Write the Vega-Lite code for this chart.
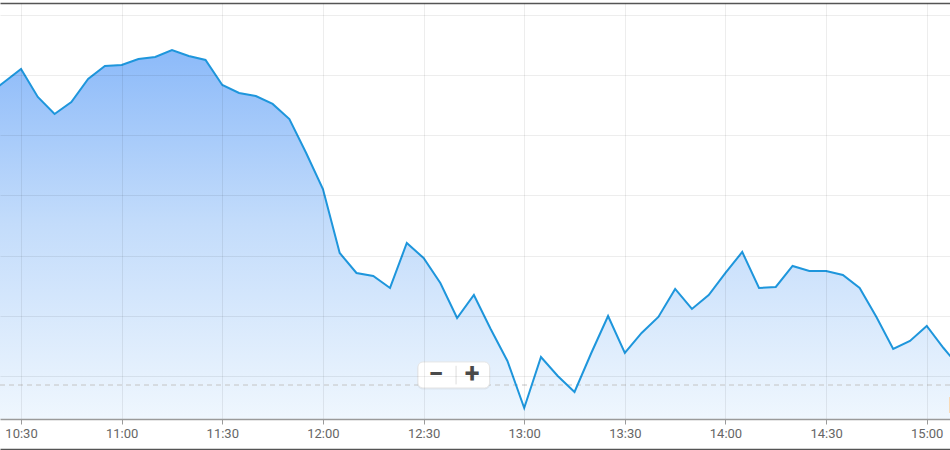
{
  "$schema": "https://vega.github.io/schema/vega-lite/v6.json",
  "width": 950,
  "height": 416,
  "autosize": {"type": "none"},
  "padding": {"left": 0, "top": 3, "right": 0, "bottom": 31},
  "background": "white",
  "config": {"view": {"stroke": null}, "font": "Roboto"},
  "datasets": {
    "main": [
      {"t": "2024-01-01T10:20:00", "v": 56.70},
      {"t": "2024-01-01T10:25:00", "v": 58.86},
      {"t": "2024-01-01T10:30:00", "v": 61.02},
      {"t": "2024-01-01T10:35:00", "v": 56.37},
      {"t": "2024-01-01T10:40:00", "v": 53.54},
      {"t": "2024-01-01T10:45:00", "v": 55.54},
      {"t": "2024-01-01T10:50:00", "v": 59.36},
      {"t": "2024-01-01T10:55:00", "v": 61.52},
      {"t": "2024-01-01T11:00:00", "v": 61.69},
      {"t": "2024-01-01T11:05:00", "v": 62.68},
      {"t": "2024-01-01T11:10:00", "v": 63.02},
      {"t": "2024-01-01T11:15:00", "v": 64.18},
      {"t": "2024-01-01T11:20:00", "v": 63.18},
      {"t": "2024-01-01T11:25:00", "v": 62.52},
      {"t": "2024-01-01T11:30:00", "v": 58.36},
      {"t": "2024-01-01T11:35:00", "v": 57.03},
      {"t": "2024-01-01T11:40:00", "v": 56.53},
      {"t": "2024-01-01T11:45:00", "v": 55.21},
      {"t": "2024-01-01T11:50:00", "v": 52.71},
      {"t": "2024-01-01T11:55:00", "v": 47.06},
      {"t": "2024-01-01T12:00:00", "v": 41.08},
      {"t": "2024-01-01T12:05:00", "v": 30.44},
      {"t": "2024-01-01T12:10:00", "v": 27.12},
      {"t": "2024-01-01T12:15:00", "v": 26.62},
      {"t": "2024-01-01T12:20:00", "v": 24.63},
      {"t": "2024-01-01T12:25:00", "v": 32.10},
      {"t": "2024-01-01T12:30:00", "v": 29.61},
      {"t": "2024-01-01T12:35:00", "v": 25.46},
      {"t": "2024-01-01T12:40:00", "v": 19.64},
      {"t": "2024-01-01T12:45:00", "v": 23.46},
      {"t": "2024-01-01T12:50:00", "v": 17.81},
      {"t": "2024-01-01T12:55:00", "v": 12.49},
      {"t": "2024-01-01T13:00:00", "v": 4.68},
      {"t": "2024-01-01T13:05:00", "v": 13.16},
      {"t": "2024-01-01T13:10:00", "v": 10.00},
      {"t": "2024-01-01T13:15:00", "v": 7.34},
      {"t": "2024-01-01T13:20:00", "v": 13.82},
      {"t": "2024-01-01T13:25:00", "v": 19.97},
      {"t": "2024-01-01T13:30:00", "v": 13.82},
      {"t": "2024-01-01T13:35:00", "v": 17.15},
      {"t": "2024-01-01T13:40:00", "v": 19.81},
      {"t": "2024-01-01T13:45:00", "v": 24.46},
      {"t": "2024-01-01T13:50:00", "v": 21.14},
      {"t": "2024-01-01T13:55:00", "v": 23.46},
      {"t": "2024-01-01T14:00:00", "v": 27.12},
      {"t": "2024-01-01T14:05:00", "v": 30.61},
      {"t": "2024-01-01T14:10:00", "v": 24.63},
      {"t": "2024-01-01T14:15:00", "v": 24.79},
      {"t": "2024-01-01T14:20:00", "v": 28.28},
      {"t": "2024-01-01T14:25:00", "v": 27.45},
      {"t": "2024-01-01T14:30:00", "v": 27.45},
      {"t": "2024-01-01T14:35:00", "v": 26.79},
      {"t": "2024-01-01T14:40:00", "v": 24.63},
      {"t": "2024-01-01T14:45:00", "v": 19.81},
      {"t": "2024-01-01T14:50:00", "v": 14.49},
      {"t": "2024-01-01T14:55:00", "v": 15.82},
      {"t": "2024-01-01T15:00:00", "v": 18.31},
      {"t": "2024-01-01T15:05:00", "v": 14.65},
      {"t": "2024-01-01T15:10:00", "v": 11.33}
    ],
    "ctl": [
      {"t1": "2024-01-01T12:28:20", "t2": "2024-01-01T12:49:40", "top": 12.33, "bottom": 8.01}
    ],
    "shadow": [
      {"t1": "2024-01-01T12:28:05", "t2": "2024-01-01T12:49:55", "top": 12.2, "bottom": 7.75}
    ],
    "glyphs": [
      {"t": "2024-01-01T12:33:43", "v": 10.2, "s": "−"},
      {"t": "2024-01-01T12:44:27", "v": 10.2, "s": "+"}
    ],
    "sep": [
      {"t": "2024-01-01T12:39:41", "top": 11.7, "bottom": 8.6}
    ],
    "tag": [
      {"t1": "2024-01-01T15:06:40", "t2": "2024-01-01T15:20:00", "top": 6.51, "bottom": 3.85}
    ],
    "ref": [
      {"v": 8.5}
    ]
  },
  "resolve": {"axis": {"x": "independent"}},
  "layer": [
    {
      "data": {"name": "main"},
      "mark": {
        "type": "area",
        "clip": true,
        "fill": {
          "gradient": "linear",
          "x1": 0, "y1": 0, "x2": 0, "y2": 1,
          "stops": [
            {"offset": 0, "color": "#8cbaf9"},
            {"offset": 0.45, "color": "#c3dcfb"},
            {"offset": 1, "color": "#f3f9fe"}
          ]
        }
      },
      "encoding": {
        "x": {
          "field": "t",
          "type": "temporal",
          "scale": {
            "domain": [
              {"year": 2024, "month": 1, "date": 1, "hours": 10, "minutes": 23, "seconds": 44},
              {"year": 2024, "month": 1, "date": 1, "hours": 15, "minutes": 6, "seconds": 56}
            ]
          },
          "axis": {
            "orient": "bottom",
            "title": null,
            "format": "%H:%M",
            "values": [
              {"year": 2024, "month": 1, "date": 1, "hours": 10, "minutes": 30},
              {"year": 2024, "month": 1, "date": 1, "hours": 11, "minutes": 0},
              {"year": 2024, "month": 1, "date": 1, "hours": 11, "minutes": 30},
              {"year": 2024, "month": 1, "date": 1, "hours": 12, "minutes": 0},
              {"year": 2024, "month": 1, "date": 1, "hours": 12, "minutes": 30},
              {"year": 2024, "month": 1, "date": 1, "hours": 13, "minutes": 0},
              {"year": 2024, "month": 1, "date": 1, "hours": 13, "minutes": 30},
              {"year": 2024, "month": 1, "date": 1, "hours": 14, "minutes": 0},
              {"year": 2024, "month": 1, "date": 1, "hours": 14, "minutes": 30},
              {"year": 2024, "month": 1, "date": 1, "hours": 15, "minutes": 0}
            ],
            "grid": true,
            "gridColor": "#000000",
            "gridOpacity": 0.07,
            "domainColor": "#9a9a9a",
            "domainWidth": 1.5,
            "tickColor": "#9a9a9a",
            "tickSize": 5,
            "labelPadding": 3,
            "labelFontSize": 13,
            "labelColor": "#666666",
            "labelFont": "Roboto",
            "labelFlush": false,
            "labelOverlap": false,
            "zindex": 1
          }
        },
        "y": {
          "field": "v",
          "type": "quantitative",
          "scale": {"domain": [2.85, 71.99], "nice": false, "zero": false},
          "axis": {
            "title": null,
            "values": [10, 20, 30, 40, 50, 60, 70],
            "grid": true,
            "gridColor": "#000000",
            "gridOpacity": 0.07,
            "labels": false,
            "ticks": false,
            "domain": false,
            "zindex": 1
          }
        }
      }
    },
    {
      "data": {"name": "ref"},
      "mark": {"type": "rule", "color": "#c4c4c4", "strokeDash": [5, 4], "strokeWidth": 1},
      "encoding": {"y": {"field": "v", "type": "quantitative"}}
    },
    {
      "data": {"name": "main"},
      "mark": {"type": "line", "clip": true, "color": "#1e96dc", "strokeWidth": 2, "strokeJoin": "miter"},
      "encoding": {
        "x": {
          "field": "t",
          "type": "temporal",
          "axis": {
            "orient": "top",
            "title": null,
            "labels": false,
            "ticks": false,
            "grid": false,
            "domain": true,
            "domainColor": "#555555",
            "domainWidth": 1.5
          }
        },
        "y": {"field": "v", "type": "quantitative"}
      }
    },
    {
      "data": {"name": "shadow"},
      "mark": {"type": "rect", "fill": "#000000", "opacity": 0.06, "cornerRadius": 6},
      "encoding": {
        "x": {"field": "t1", "type": "temporal", "axis": null},
        "x2": {"field": "t2"},
        "y": {"field": "top", "type": "quantitative"},
        "y2": {"field": "bottom"}
      }
    },
    {
      "data": {"name": "ctl"},
      "mark": {"type": "rect", "fill": "#ffffff", "stroke": "#e6e6e6", "strokeWidth": 1, "cornerRadius": 5},
      "encoding": {
        "x": {
          "field": "t1",
          "type": "temporal",
          "axis": {
            "orient": "bottom",
            "offset": 30,
            "title": null,
            "labels": false,
            "ticks": false,
            "grid": false,
            "domain": true,
            "domainColor": "#555555",
            "domainWidth": 1.5
          }
        },
        "x2": {"field": "t2"},
        "y": {"field": "top", "type": "quantitative"},
        "y2": {"field": "bottom"}
      }
    },
    {
      "data": {"name": "sep"},
      "mark": {"type": "rule", "color": "#dddddd", "strokeWidth": 1},
      "encoding": {
        "x": {"field": "t", "type": "temporal", "axis": null},
        "y": {"field": "top", "type": "quantitative"},
        "y2": {"field": "bottom"}
      }
    },
    {
      "data": {"name": "glyphs"},
      "mark": {"type": "text", "fontSize": 27, "fontWeight": "bold", "color": "#4a4a4a", "align": "center", "baseline": "middle", "font": "Roboto"},
      "encoding": {
        "x": {"field": "t", "type": "temporal", "axis": null},
        "y": {"field": "v", "type": "quantitative"},
        "text": {"field": "s"}
      }
    },
    {
      "data": {"name": "tag"},
      "mark": {"type": "rect", "clip": true, "fill": "#fcd6ae"},
      "encoding": {
        "x": {"field": "t1", "type": "temporal", "axis": null},
        "x2": {"field": "t2"},
        "y": {"field": "top", "type": "quantitative"},
        "y2": {"field": "bottom"}
      }
    }
  ]
}
